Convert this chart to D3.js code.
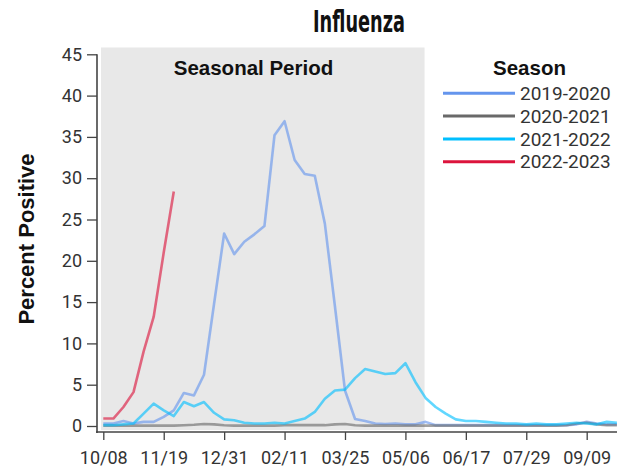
<!DOCTYPE html>
<html>
<head>
<meta charset="utf-8">
<script src="https://cdn.jsdelivr.net/npm/d3@7"></script>
<style>
  html, body { margin: 0; padding: 0; background: #fff; }
  svg { display: block; }
</style>
</head>
<body>
<svg id="chart" width="618" height="471"></svg>
<script>
// ---- data ----
const weekTickLabels = ["10/08", "11/19", "12/31", "02/11", "03/25", "05/06", "06/17", "07/29", "09/09"];
const weekTickValues = [0, 6, 12, 18, 24, 30, 36, 42, 48];
const yTickValues = [0, 5, 10, 15, 20, 25, 30, 35, 40, 45];
const seasonNames = ["2019-2020", "2020-2021", "2021-2022", "2022-2023"];
const seasonColors = ["#6495ED", "#696969", "#00BFFF", "#DC143C"];
const seasonalPeriod = [0, 32];

const s2019 = [0.3, 0.3, 0.6, 0.3, 0.5, 0.5, 1.1, 1.9, 4.0, 3.7, 6.2, 14.8, 23.3, 20.8, 22.3, 23.2, 24.2, 35.2, 36.9, 32.2,
               30.5, 30.3, 24.5, 14.5, 4.3, 0.85, 0.6, 0.3, 0.25, 0.3, 0.2, 0.2, 0.5, 0.1, 0.1, 0.1, 0.1, 0.1, 0.1, 0.1,
               0.1, 0.1, 0.1, 0.1, 0.1, 0.1, 0.1, 0.2, 0.5, 0.3, 0.2, 0.2];
const s2020 = [0.05, 0.05, 0.05, 0.05, 0.05, 0.05, 0.05, 0.05, 0.1, 0.15, 0.25, 0.2, 0.1, 0.05, 0.05, 0.05, 0.05, 0.05, 0.1, 0.1,
               0.1, 0.1, 0.1, 0.2, 0.25, 0.1, 0.05, 0.05, 0.05, 0.05, 0.05, 0.05, 0.05, 0.05, 0.05, 0.05, 0.05, 0.05, 0.05, 0.05,
               0.05, 0.05, 0.05, 0.05, 0.05, 0.05, 0.1, 0.3, 0.4, 0.2, 0.1, 0.1];
const s2021 = [0.1, 0.1, 0.2, 0.3, 1.5, 2.7, 1.9, 1.2, 2.9, 2.4, 2.9, 1.6, 0.8, 0.7, 0.4, 0.3, 0.3, 0.4, 0.3, 0.6,
               0.9, 1.7, 3.3, 4.3, 4.4, 5.8, 6.9, 6.6, 6.3, 6.4, 7.6, 5.3, 3.4, 2.3, 1.5, 0.8, 0.6, 0.6, 0.5, 0.4,
               0.3, 0.3, 0.2, 0.3, 0.2, 0.2, 0.3, 0.4, 0.3, 0.2, 0.5, 0.4];
const s2022 = [0.9, 0.9, 2.3, 4.1, 9.0, 13.2, 21.0, 28.4];
const seriesValues = [s2019, s2020, s2021, s2022];

// ---- layout ----
const svg = d3.select("#chart");
const x = d3.scaleLinear().domain([0, 51]).range([103.3, 616.9]);
const y = d3.scaleLinear().domain([0, 45]).range([426, 54.3]);
const axisX = 97, axisY = 432;
const font = "Roboto, 'Noto Sans', sans-serif";
const boldFont = "'Liberation Sans', Arial, sans-serif";
const textColor = "#333";

// seasonal period panel
svg.append("rect")
  .attr("x", x(seasonalPeriod[0]) - 2.3)
  .attr("y", 47.5)
  .attr("width", x(seasonalPeriod[1]) - x(seasonalPeriod[0]) + 1.3)
  .attr("height", 430 - 47.5)
  .attr("fill", "#e8e8e8");

svg.append("text")
  .attr("x", 253.5).attr("y", 75)
  .attr("text-anchor", "middle")
  .attr("font-family", boldFont).attr("font-weight", "bold")
  .attr("font-size", 20.5).attr("fill", "#111")
  .text("Seasonal Period");

// lines
const line = d3.line().x((d, i) => x(i)).y(d => y(d));
seriesValues.forEach((vals, i) => {
  svg.append("path")
    .datum(vals)
    .attr("d", line)
    .attr("fill", "none")
    .attr("stroke", seasonColors[i])
    .attr("stroke-opacity", 0.62)
    .attr("stroke-width", 2.6)
    .attr("stroke-linejoin", "round");
});

// y axis
const yAxis = d3.axisLeft(y).tickValues(yTickValues).tickSize(10).tickPadding(5);
const gy = svg.append("g").attr("transform", `translate(${axisX},0)`).call(yAxis);
gy.select(".domain").remove();
gy.append("line").attr("x1", 0).attr("x2", 0).attr("y1", y(45)).attr("y2", axisY + 1)
  .attr("stroke", "#444").attr("stroke-width", 1.6);
gy.selectAll(".tick line").attr("stroke", "#444").attr("stroke-width", 1.3);
gy.selectAll(".tick text").attr("font-family", font).attr("font-size", 18).attr("fill", textColor);

// x axis
const xAxis = d3.axisBottom(x).tickValues(weekTickValues)
  .tickFormat((d, i) => weekTickLabels[i]).tickSize(8).tickPadding(11);
const gx = svg.append("g").attr("transform", `translate(0,${axisY})`).call(xAxis);
gx.select(".domain").remove();
gx.append("line").attr("x1", axisX - 1).attr("x2", 617).attr("y1", 0).attr("y2", 0)
  .attr("stroke", "#444").attr("stroke-width", 1.6);
gx.selectAll(".tick line").attr("stroke", "#444").attr("stroke-width", 1.3);
gx.selectAll(".tick text").attr("font-family", font).attr("font-size", 18).attr("fill", textColor);

// axis title
svg.append("text")
  .attr("transform", "translate(34,239) rotate(-90)")
  .attr("text-anchor", "middle")
  .attr("font-family", boldFont).attr("font-weight", "bold")
  .attr("font-size", 22).attr("fill", "#111")
  .text("Percent Positive");

// chart title
svg.append("text")
  .attr("x", 359).attr("y", 32)
  .attr("text-anchor", "middle")
  .attr("font-family", "'Liberation Sans Narrow', 'DejaVu Sans Condensed', sans-serif")
  .attr("font-weight", "bold")
  .attr("font-size", 30).attr("fill", "#111")
  .attr("textLength", 92).attr("lengthAdjust", "spacingAndGlyphs")
  .text("Influenza");

// legend
const legend = svg.append("g");
legend.append("text")
  .attr("x", 529.5).attr("y", 75)
  .attr("text-anchor", "middle")
  .attr("font-family", boldFont).attr("font-weight", "bold")
  .attr("font-size", 20.5).attr("fill", "#111")
  .text("Season");
seasonNames.forEach((name, i) => {
  const ly = 93.3 + i * 22.8;
  legend.append("line")
    .attr("x1", 443).attr("x2", 515).attr("y1", ly).attr("y2", ly)
    .attr("stroke", seasonColors[i]).attr("stroke-width", 3);
  legend.append("text")
    .attr("x", 520).attr("y", ly + 6.7)
    .attr("font-family", font).attr("font-size", 19).attr("fill", textColor)
    .text(name);
});
</script>
</body>
</html>
